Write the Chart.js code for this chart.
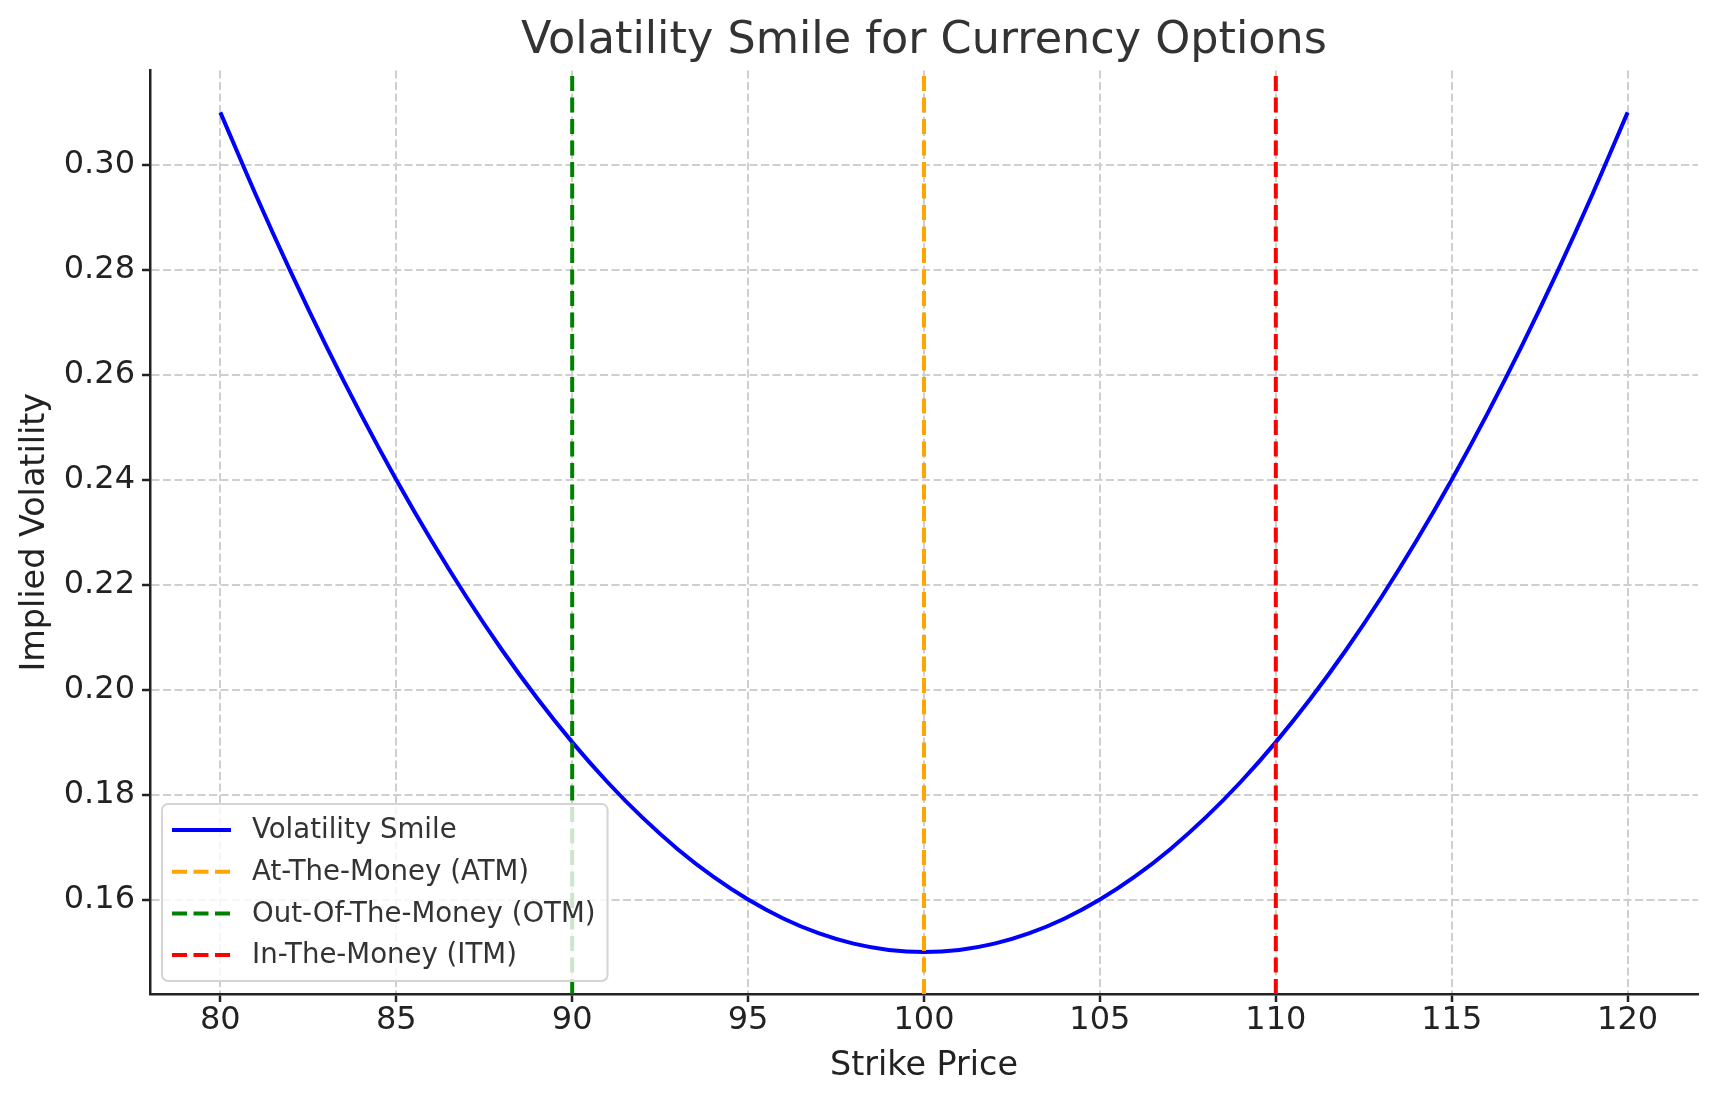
<!DOCTYPE html>
<html>
<head>
<meta charset="utf-8">
<title>Volatility Smile for Currency Options</title>
<script src="https://cdn.jsdelivr.net/npm/chart.js@4.4.1/dist/chart.umd.min.js"></script>
<style>
  html, body { margin: 0; padding: 0; background: #fff; }
  #wrap { width: 1718px; height: 1101px; }
</style>
</head>
<body>
<div id="wrap"><canvas id="smileCanvas"></canvas></div>
<script>
// strikes and implied vols
const strikes = [80, 81, 82, 83, 84, 85, 86, 87, 88, 89, 90, 91, 92, 93, 94, 95, 96, 97, 98, 99, 100,
                 101, 102, 103, 104, 105, 106, 107, 108, 109, 110, 111, 112, 113, 114, 115, 116, 117, 118, 119, 120];
const impliedVols = [0.3100, 0.2944, 0.2796, 0.2656, 0.2524, 0.2400, 0.2284, 0.2176, 0.2076, 0.1984, 0.1900,
                     0.1824, 0.1756, 0.1696, 0.1644, 0.1600, 0.1564, 0.1536, 0.1516, 0.1504, 0.1500,
                     0.1504, 0.1516, 0.1536, 0.1564, 0.1600, 0.1644, 0.1696, 0.1756, 0.1824, 0.1900,
                     0.1984, 0.2076, 0.2176, 0.2284, 0.2400, 0.2524, 0.2656, 0.2796, 0.2944, 0.3100];

const atmStrike = 100;
const otmStrike = 90;
const itmStrike = 110;

const xTicks = [80, 85, 90, 95, 100, 105, 110, 115, 120];
const yTicks = [0.16, 0.18, 0.20, 0.22, 0.24, 0.26, 0.28, 0.30];
const xRange = [78, 122];
const yRange = [0.142, 0.318];

const FONT = '"DejaVu Sans", sans-serif';

function vline(strike) {
    return [{ x: strike, y: yRange[0] }, { x: strike, y: yRange[1] }];
}

// legend drawn inside the plot, lower left, like matplotlib's
const insideLegend = {
    id: 'insideLegend',
    afterDatasetsDraw(chart) {
        const { ctx, chartArea } = chart;
        const sets = chart.data.datasets;
        ctx.save();
        ctx.font = '27.6px ' + FONT;
        let textW = 0;
        sets.forEach(ds => { textW = Math.max(textW, ctx.measureText(ds.label).width); });

        const rowH = 41.7;
        const left = chartArea.left + 12;
        const h = 177;
        const top = chartArea.bottom - 13 - h;
        const w = 90 + textW + 12;

        ctx.beginPath();
        ctx.roundRect(left, top, w, h, 6);
        ctx.fillStyle = 'rgba(255,255,255,0.8)';
        ctx.fill();
        ctx.lineWidth = 2;
        ctx.strokeStyle = '#d4d4d4';
        ctx.stroke();

        sets.forEach((ds, i) => {
            const y = top + 26 + i * rowH;
            ctx.beginPath();
            ctx.setLineDash(ds.borderDash || []);
            ctx.lineWidth = ds.borderWidth;
            ctx.strokeStyle = ds.borderColor;
            ctx.moveTo(left + 10, y);
            ctx.lineTo(left + 69, y);
            ctx.stroke();
            ctx.setLineDash([]);
            ctx.fillStyle = '#333333';
            ctx.textBaseline = 'middle';
            ctx.textAlign = 'left';
            ctx.fillText(ds.label, left + 90, y + 1);
        });
        ctx.restore();
    }
};

const ctx = document.getElementById('smileCanvas').getContext('2d');
const smileChart = new Chart(ctx, {
    type: 'line',
    data: {
        datasets: [{
            label: 'Volatility Smile',
            data: strikes.map((s, i) => ({ x: s, y: impliedVols[i] })),
            borderColor: '#0000ff',
            borderWidth: 4,
            pointRadius: 0,
            cubicInterpolationMode: 'monotone',
            order: 1
        }, {
            label: 'At-The-Money (ATM)',
            data: vline(atmStrike),
            borderColor: '#ffa500',
            borderWidth: 4,
            borderDash: [15, 6.5],
            pointRadius: 0,
            order: 0
        }, {
            label: 'Out-Of-The-Money (OTM)',
            data: vline(otmStrike),
            borderColor: '#008000',
            borderWidth: 4,
            borderDash: [15, 6.5],
            pointRadius: 0,
            order: 0
        }, {
            label: 'In-The-Money (ITM)',
            data: vline(itmStrike),
            borderColor: '#ff0000',
            borderWidth: 4,
            borderDash: [15, 6.5],
            pointRadius: 0,
            order: 0
        }]
    },
    options: {
        responsive: true,
        maintainAspectRatio: false,
        animation: false,
        layout: { padding: { left: 0, right: 20, top: 0, bottom: 0 } },
        plugins: {
            legend: { display: false },
            tooltip: { enabled: false },
            title: {
                display: true,
                text: 'Volatility Smile for Currency Options',
                fullSize: false,
                color: '#333333',
                font: { family: FONT, size: 44.5, weight: 'normal' },
                padding: { top: 15, bottom: 2 }
            }
        },
        scales: {
            x: {
                type: 'linear',
                min: xRange[0],
                max: xRange[1],
                afterBuildTicks: s => { s.ticks = xTicks.map(v => ({ value: v })); },
                afterFit: s => { s.height = 107; },
                grid: {
                    color: '#cfcfcf',
                    lineWidth: 2,
                    tickLength: 8,
                    tickColor: '#222222',
                    tickWidth: 2.5,
                    tickBorderDash: [20, 0]
                },
                border: { display: true, color: '#222222', width: 2.5, dash: [8, 3.5] },
                ticks: {
                    color: '#222222',
                    font: { family: FONT, size: 32 },
                    padding: -1,
                    maxRotation: 0,
                    callback: v => v
                },
                title: {
                    display: true,
                    text: 'Strike Price',
                    color: '#222222',
                    font: { family: FONT, size: 33.4 },
                    padding: { top: 0, bottom: 15 }
                }
            },
            y: {
                type: 'linear',
                min: yRange[0],
                max: yRange[1],
                afterBuildTicks: s => { s.ticks = yTicks.map(v => ({ value: v })); },
                afterFit: s => { s.width = 150; },
                grid: {
                    color: '#cfcfcf',
                    lineWidth: 2,
                    tickLength: 8,
                    tickColor: '#222222',
                    tickWidth: 2.5,
                    tickBorderDash: [20, 0]
                },
                border: { display: true, color: '#222222', width: 2.5, dash: [8, 3.5] },
                ticks: {
                    color: '#222222',
                    font: { family: FONT, size: 32 },
                    padding: 7,
                    callback: v => v.toFixed(2)
                },
                title: {
                    display: true,
                    text: 'Implied Volatility',
                    color: '#222222',
                    font: { family: FONT, size: 33.4 },
                    padding: { top: 15, bottom: 0 }
                }
            }
        }
    },
    plugins: [insideLegend]
});
</script>
</body>
</html>
